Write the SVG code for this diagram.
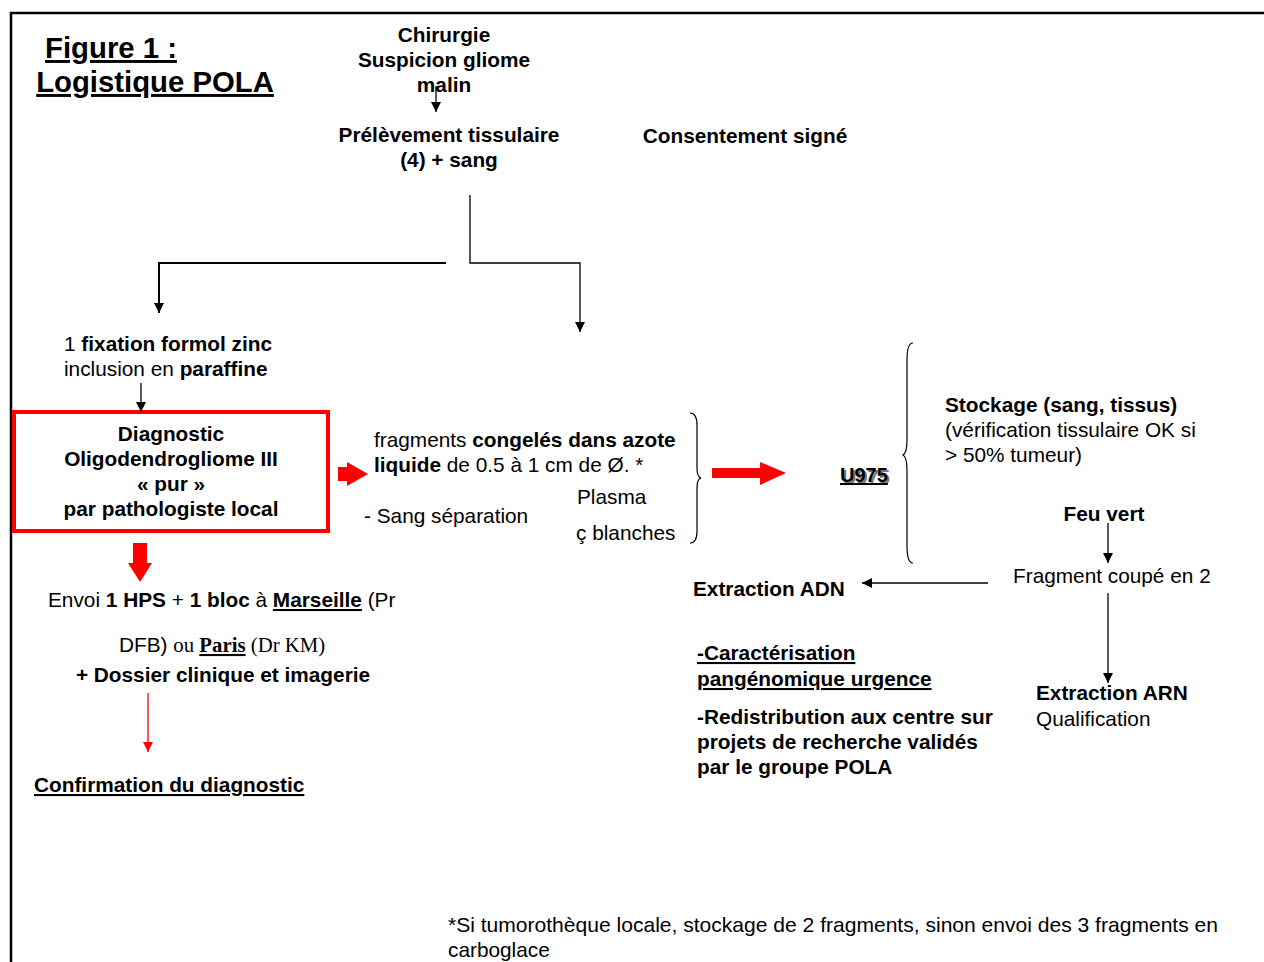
<svg xmlns="http://www.w3.org/2000/svg" width="1264" height="962" viewBox="0 0 1264 962">
<style>
text{font-family:"Liberation Sans",Arial,sans-serif;font-size:20.8px;fill:#000}
.b{font-weight:bold}
.c{text-anchor:middle}
.u{text-decoration:underline}
.tm{font-family:"Liberation Serif","Times New Roman",serif}
.sh{fill:#777}
.ln{fill:none;stroke:#000;stroke-width:1.3}
.red{fill:#f00;stroke:none}
</style>
<defs>
<marker id="ah" viewBox="0 0 10 10" refX="10" refY="5" markerWidth="10" markerHeight="10" markerUnits="userSpaceOnUse" orient="auto">
<path d="M0,0 L10,5 L0,10 Z" fill="#000"/>
</marker>
<marker id="ahr" viewBox="0 0 10 10" refX="10" refY="5" markerWidth="10" markerHeight="10" markerUnits="userSpaceOnUse" orient="auto">
<path d="M0,0 L10,5 L0,10 Z" fill="#f00"/>
</marker>
</defs>
<rect width="1264" height="962" fill="#fff"/>
<g id="frame"><path d="M11,962 L11,13 L1264,13" fill="none" stroke="#000" stroke-width="2.5"/></g>

<g id="title">
<text x="111" y="58" class="b c u" style="font-size:29.3px">Figure 1 :</text>
<text x="155" y="92" class="b c u" style="font-size:29.3px">Logistique POLA</text>
</g>

<g id="chirurgie">
<text x="444" y="42" class="b c">Chirurgie</text>
<text x="444" y="67" class="b c">Suspicion gliome</text>
<text x="444" y="92" class="b c">malin</text>
</g>

<g id="prelevement">
<text x="449" y="142" class="b c">Prélèvement tissulaire</text>
<text x="449" y="167" class="b c">(4) + sang</text>
</g>

<g id="consentement"><text x="745" y="143" class="b c">Consentement signé</text></g>

<g id="fixation">
<text x="64" y="351">1 <tspan class="b">fixation formol zinc</tspan></text>
<text x="64" y="376">inclusion en <tspan class="b">paraffine</tspan></text>
</g>

<g id="diagnostic">
<rect x="14" y="412" width="314" height="119" fill="none" stroke="#f00" stroke-width="4"/>
<text x="171" y="441" class="b c">Diagnostic</text>
<text x="171" y="466" class="b c">Oligodendrogliome III</text>
<text x="171" y="491" class="b c">« pur »</text>
<text x="171" y="516" class="b c">par pathologiste local</text>
</g>

<g id="fragments">
<text x="374" y="447">fragments <tspan class="b">congelés dans azote</tspan></text>
<text x="374" y="472"><tspan class="b">liquide</tspan> de 0.5 à 1 cm de Ø. *</text>
<text x="577" y="504">Plasma</text>
<text x="364" y="523">- Sang séparation</text>
<text x="576" y="540">ç blanches</text>
</g>

<g id="u975">
<text x="842" y="484" class="b sh" style="font-size:20px">U975</text>
<text x="840" y="482" class="b u" style="font-size:20px">U975</text>
</g>

<g id="stockage">
<text x="945" y="412" class="b">Stockage (sang, tissus)</text>
<text x="945" y="437">(vérification tissulaire OK si</text>
<text x="945" y="462">&gt; 50% tumeur)</text>
</g>

<g id="feuvert"><text x="1104" y="521" class="b c">Feu vert</text></g>
<g id="fragmentcoupe"><text x="1013" y="583">Fragment coupé en 2</text></g>
<g id="adn"><text x="693" y="596" class="b">Extraction ADN</text></g>
<g id="arn">
<text x="1036" y="700" class="b">Extraction ARN</text>
<text x="1036" y="726">Qualification</text>
</g>

<g id="caracterisation">
<text x="697" y="660" class="b u">-Caractérisation</text>
<text x="697" y="686" class="b u">pangénomique urgence</text>
<text x="697" y="724" class="b">-Redistribution aux centre sur</text>
<text x="697" y="749" class="b">projets de recherche validés</text>
<text x="697" y="774" class="b">par le groupe POLA</text>
</g>

<g id="envoi">
<text x="48" y="607">Envoi <tspan class="b">1 HPS</tspan> + <tspan class="b">1 bloc</tspan> à <tspan class="b u">Marseille</tspan> (Pr</text>
<text x="119" y="652">DFB) <tspan class="tm">ou <tspan class="b u">Paris</tspan> (Dr KM)</tspan></text>
<text x="223" y="682" class="b c">+ Dossier clinique et imagerie</text>
</g>

<g id="confirmation"><text x="34" y="792" class="b u">Confirmation du diagnostic</text></g>

<g id="footnote">
<text x="448" y="932" textLength="770" lengthAdjust="spacingAndGlyphs">*Si tumorothèque locale, stockage de 2 fragments, sinon envoi des 3 fragments en</text>
<text x="448" y="957">carboglace</text>
</g>

<g id="connectors">
<path class="ln" d="M436,86 L436,112" marker-end="url(#ah)"/>
<path class="ln" d="M470,195 L470,263 L580,263 L580,332" marker-end="url(#ah)"/>
<path d="M446,263 L159,263 L159,313" fill="none" stroke="#000" stroke-width="2" marker-end="url(#ah)"/>
<path class="ln" d="M141,383 L141,412" marker-end="url(#ah)"/>
<path class="red" d="M338,467 L347,467 L347,462 L368,474 L347,486 L347,481 L338,481 Z"/>
<path d="M690,413 Q697,413 697,425 L697,468 Q697,477 701,478 Q697,479 697,488 L697,531 Q697,543 690,543" fill="none" stroke="#000" stroke-width="1.2"/>
<path class="red" d="M712,468 L760,468 L760,462 L786,473 L760,485 L760,478 L712,478 Z"/>
<path d="M913,343 Q907,343 907,360 L907,440 Q907,453 903,455 Q907,457 907,470 L907,546 Q907,563 913,563" fill="none" stroke="#000" stroke-width="1.2"/>
<path class="ln" d="M1108,523 L1108,563" marker-end="url(#ah)"/>
<path class="ln" d="M988,583 L862,583" marker-end="url(#ah)"/>
<path class="ln" d="M1108,593 L1108,683" marker-end="url(#ah)"/>
<path class="red" d="M133,543 L147,543 L147,563 L152,563 L140,582 L128,563 L133,563 Z"/>
<path d="M148,693 L148,752" fill="none" stroke="#f00" stroke-width="1.3" marker-end="url(#ahr)"/>
</g>
</svg>
